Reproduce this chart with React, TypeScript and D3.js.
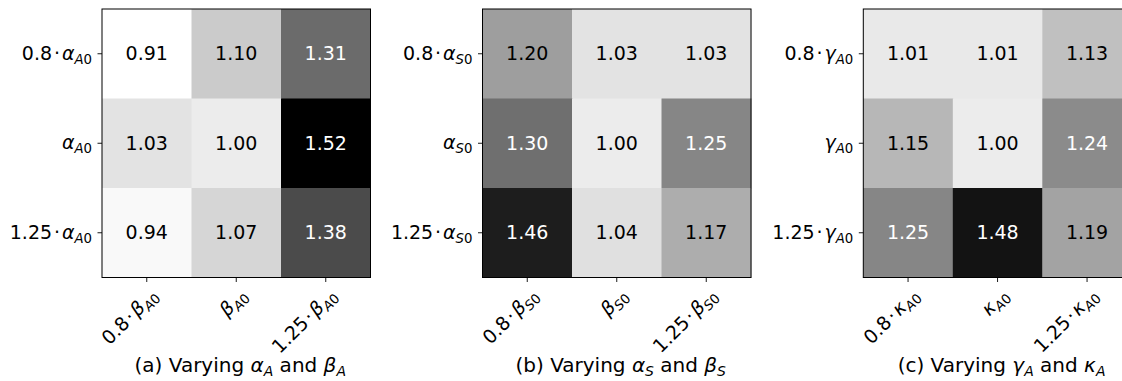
import React, { useRef, useEffect } from 'react';
import * as d3 from 'd3';

// relative cost, rows = first parameter, cols = second parameter
const valuesA = [
    [0.91, 1.10, 1.31],
    [1.03, 1.00, 1.52],
    [0.94, 1.07, 1.38],
];
const valuesB = [
    [1.20, 1.03, 1.03],
    [1.30, 1.00, 1.25],
    [1.46, 1.04, 1.17],
];
const valuesC = [
    [1.01, 1.01, 1.13],
    [1.15, 1.00, 1.24],
    [1.25, 1.48, 1.19],
];

const coefs = ['0.8', '', '1.25'];
const panelLetters = ['a', 'b', 'c'];
const rowSymbols = ['α', 'α', 'γ'];
const rowSubs = ['A', 'S', 'A'];
const colSymbols = ['β', 'β', 'κ'];
const colSubs = ['A', 'S', 'A'];

// matplotlib "Greys"
const greys = ['#ffffff', '#f0f0f0', '#d9d9d9', '#bdbdbd', '#969696', '#737373', '#525252', '#252525', '#000000'];

const App = () => {
    const ref = useRef<SVGSVGElement>(null);

    useEffect(() => {
        const width = 1122;
        const height = 381;
        const fontSize = 19;
        const panelX = [102, 482.5, 863.3];
        const top = 9;
        const size = 268.5;

        const all = [valuesA, valuesB, valuesC];
        const flat = all.flat(2);
        const vmin = d3.min(flat) as number;
        const vmax = d3.max(flat) as number;
        const norm = d3.scaleLinear().domain([vmin, vmax]).range([0, 1]);
        const color = d3.scaleLinear<string>()
            .domain(greys.map((_, i) => i / (greys.length - 1)))
            .range(greys)
            .interpolate(d3.interpolateRgb)
            .clamp(true);

        const svg = d3.select(ref.current)
            .attr('width', width)
            .attr('height', height)
            .style('font-family', '"DejaVu Sans", sans-serif')
            .style('font-size', fontSize + 'px');
        svg.selectAll('*').remove();

        const mathLabel = (text, coef, sym, sub) => {
            if (coef) text.append('tspan').text(coef + '\u200a·\u200a');
            text.append('tspan').attr('font-style', 'italic').text(sym);
            text.append('tspan').attr('font-style', 'italic').attr('font-size', '0.7em').attr('dy', 4).text(sub);
            text.append('tspan').attr('font-size', '0.7em').text('0');
        };

        all.forEach((values, p) => {
            const idx = d3.range(3);
            const x = d3.scaleBand<number>().domain(idx).range([panelX[p], panelX[p] + size]);
            const y = d3.scaleBand<number>().domain(idx).range([top, top + size]);
            const g = svg.append('g');

            const cells = values.flatMap((row, r) => row.map((v, c) => ({ r, c, v })));

            g.selectAll('rect.cell')
                .data(cells)
                .join('rect')
                .attr('class', 'cell')
                .attr('x', d => x(d.c))
                .attr('y', d => y(d.r))
                .attr('width', x.bandwidth() + 0.5)
                .attr('height', y.bandwidth() + 0.5)
                .attr('fill', d => color(norm(d.v)));

            g.selectAll('text.val')
                .data(cells)
                .join('text')
                .attr('class', 'val')
                .attr('x', d => x(d.c) + x.bandwidth() / 2)
                .attr('y', d => y(d.r) + y.bandwidth() / 2 + 6.5)
                .attr('text-anchor', 'middle')
                .attr('fill', d => (norm(d.v) > 0.5 ? '#ffffff' : '#000000'))
                .text(d => d.v.toFixed(2));

            g.append('rect')
                .attr('x', panelX[p])
                .attr('y', top)
                .attr('width', size)
                .attr('height', size)
                .attr('fill', 'none')
                .attr('stroke', '#000')
                .attr('stroke-width', 1);

            // ticks
            g.append('g')
                .attr('transform', `translate(0,${top + size})`)
                .call(d3.axisBottom(x).tickSize(4.5).tickFormat(() => ''))
                .call(s => s.select('.domain').remove())
                .call(s => s.selectAll('line').attr('stroke', '#000').attr('stroke-width', 0.9));
            g.append('g')
                .attr('transform', `translate(${panelX[p]},0)`)
                .call(d3.axisLeft(y).tickSize(4.5).tickFormat(() => ''))
                .call(s => s.select('.domain').remove())
                .call(s => s.selectAll('line').attr('stroke', '#000').attr('stroke-width', 0.9));

            // row labels
            idx.forEach(i => {
                const t = g.append('text')
                    .attr('x', panelX[p] - 10)
                    .attr('y', y(i) + y.bandwidth() / 2 + 6)
                    .attr('text-anchor', 'end')
                    .attr('fill', '#000');
                mathLabel(t, coefs[i], rowSymbols[p], rowSubs[p]);
            });

            // column labels, rotated
            idx.forEach(i => {
                const cx = x(i) + x.bandwidth() / 2 + 12;
                const cy = top + size + 19;
                const t = g.append('text')
                    .attr('transform', `translate(${cx},${cy}) rotate(-45)`)
                    .attr('text-anchor', 'end')
                    .attr('fill', '#000');
                mathLabel(t, coefs[i], colSymbols[p], colSubs[p]);
            });

            // caption
            const cap = g.append('text')
                .attr('x', panelX[p] + size / 2 + 4)
                .attr('y', 372)
                .attr('text-anchor', 'middle')
                .attr('font-size', 20)
                .attr('fill', '#000');
            cap.append('tspan').text(`(${panelLetters[p]}) Varying `);
            cap.append('tspan').attr('font-style', 'italic').text(rowSymbols[p]);
            cap.append('tspan').attr('font-style', 'italic').attr('font-size', '0.7em').attr('dy', 4).text(rowSubs[p]);
            cap.append('tspan').attr('dy', -4).text(' and ');
            cap.append('tspan').attr('font-style', 'italic').text(colSymbols[p]);
            cap.append('tspan').attr('font-style', 'italic').attr('font-size', '0.7em').attr('dy', 4).text(colSubs[p]);
        });
    }, []);

    return (
        <svg ref={ref} style={{ position: 'absolute', left: 0, top: 0, background: '#fff' }}></svg>
    );
};

export default App;
